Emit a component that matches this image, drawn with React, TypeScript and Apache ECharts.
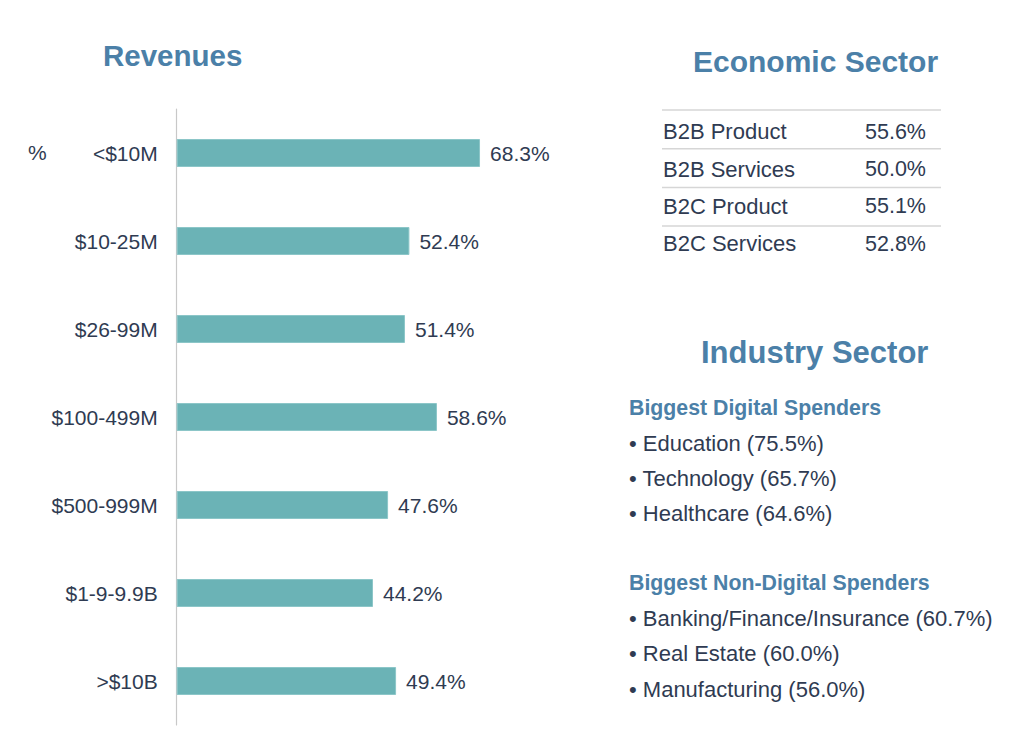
import React, { useEffect, useRef } from "react";
import * as echarts from "echarts";

const categories = ["<$10M", "$10-25M", "$26-99M", "$100-499M", "$500-999M", "$1-9-9.9B", ">$10B"];
const revenueValues = [68.3, 52.4, 51.4, 58.6, 47.6, 44.2, 49.4];

const econLabels = ["B2B Product", "B2B Services", "B2C Product", "B2C Services"];
const econValues = [55.6, 50.0, 55.1, 52.8];

const digitalNames = ["Education", "Technology", "Healthcare"];
const digitalValues = [75.5, 65.7, 64.6];
const nonDigitalNames = ["Banking/Finance/Insurance", "Real Estate", "Manufacturing"];
const nonDigitalValues = [60.7, 60.0, 56.0];

const FONT = '"Liberation Sans", Arial, Helvetica, sans-serif';
const BLUE = "#4b80a8";
const DARK = "#2f3b52";
const BAR = "#6bb3b6";

export default function App() {
  const ref = useRef<HTMLDivElement>(null);

  useEffect(() => {
    document.body.style.margin = "0";
    if (!ref.current) return;
    const chart = echarts.init(ref.current, undefined, { renderer: "svg" });

    const graphics: any[] = [];
    const txt = (text: string, x: number, y: number, size: number, bold: boolean, fill: string, align = "left") => ({
      type: "text",
      x,
      y,
      style: {
        text,
        fill,
        font: `${bold ? "bold " : ""}${size}px ${FONT}`,
        align,
        verticalAlign: "middle",
      },
    });

    graphics.push(txt("Revenues", 103, 55.5, 29.5, true, BLUE));
    graphics.push(txt("%", 28, 152, 21, false, DARK));
    graphics.push(txt("Economic Sector", 693, 61, 30, true, BLUE));

    econLabels.forEach((lab, i) => {
      graphics.push({
        type: "line",
        shape: { x1: 662, y1: 110 + i * 38.7, x2: 941, y2: 110 + i * 38.7 },
        style: { stroke: "#d6d6d6", lineWidth: 1.5 },
      });
      const y = 131.8 + i * 37.3;
      graphics.push(txt(lab, 663, y, 22, false, DARK));
      graphics.push(txt(econValues[i].toFixed(1) + "%", 865, y, 21.5, false, DARK));
    });

    graphics.push(txt("Industry Sector", 701, 352.5, 31, true, BLUE));
    graphics.push(txt("Biggest Digital Spenders", 629, 408, 21.3, true, BLUE));
    digitalNames.forEach((n, i) => {
      graphics.push(txt(`• ${n} (${digitalValues[i].toFixed(1)}%)`, 629, 443 + i * 35.3, 22, false, DARK));
    });
    graphics.push(txt("Biggest Non-Digital Spenders", 629, 583, 21.3, true, BLUE));
    nonDigitalNames.forEach((n, i) => {
      graphics.push(txt(`• ${n} (${nonDigitalValues[i].toFixed(1)}%)`, 629, 618.5 + i * 35.3, 22, false, DARK));
    });

    chart.setOption({
      animation: false,
      grid: { left: 176.7, top: 109, height: 616, width: 444.1, containLabel: false },
      xAxis: {
        type: "value",
        min: 0,
        max: 100,
        show: false,
        splitLine: { show: false },
      },
      yAxis: {
        type: "category",
        data: categories,
        inverse: true,
        axisLine: { show: true, lineStyle: { color: "#c8c8c8", width: 1.2 } },
        axisTick: { show: false },
        axisLabel: {
          margin: 19,
          fontSize: 21,
          fontFamily: FONT,
          color: DARK,
        },
      },
      series: [
        {
          type: "bar",
          data: revenueValues,
          barWidth: 28,
          itemStyle: { color: BAR, borderColor: "#8cc6c8", borderWidth: 1 },
          label: {
            show: true,
            position: "right",
            distance: 10,
            fontSize: 21,
            fontFamily: FONT,
            color: DARK,
            formatter: (p: any) => Number(p.value).toFixed(1) + "%",
          },
        },
      ],
      graphic: graphics,
    });

    return () => chart.dispose();
  }, []);

  return <div ref={ref} style={{ width: 1024, height: 754 }} />;
}
